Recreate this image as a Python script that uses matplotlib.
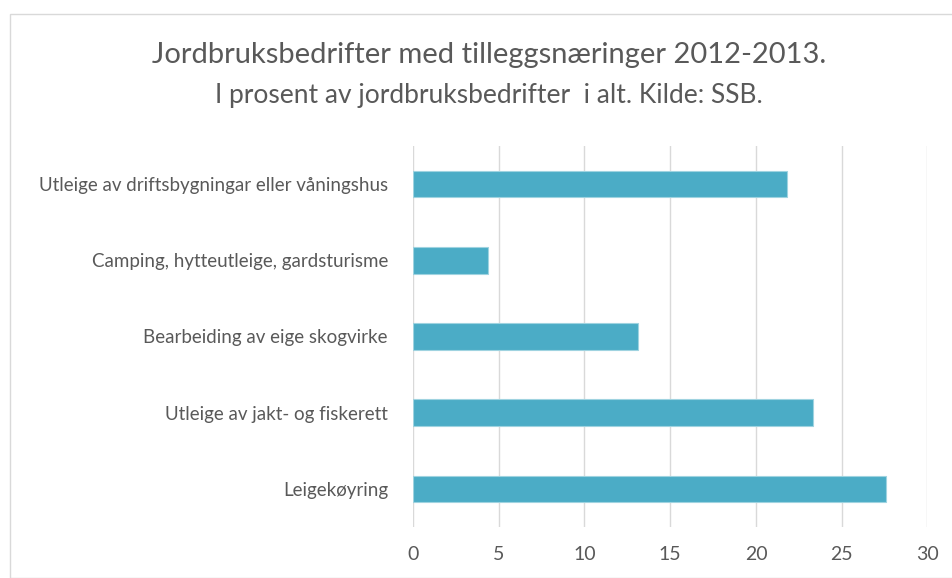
import matplotlib.pyplot as plt
from matplotlib.patches import Rectangle

plt.rcParams["font.family"] = ["Lato", "DejaVu Sans"]

categories = [
    "Utleige av driftsbygningar eller våningshus",
    "Camping, hytteutleige, gardsturisme",
    "Bearbeiding av eige skogvirke",
    "Utleige av jakt- og fiskerett",
    "Leigekøyring",
]
values = [21.8, 4.4, 13.1, 23.3, 27.6]
xticks = [0, 5, 10, 15, 20, 25, 30]

W, H = 953, 578
fig = plt.figure(figsize=(W / 100, H / 100), dpi=100)
fig.patch.set_facecolor("white")

# chart-area border
fig.patches.append(Rectangle((10 / W, 0), 1, 1 - 14 / H, transform=fig.transFigure,
                             fill=False, edgecolor="#D9D9D9", linewidth=1))

ax = fig.add_axes([413 / W, 1 - 527 / H, (927.5 - 413) / W, (527 - 146) / H])

pos = list(range(len(categories)))
ax.barh(pos, values, height=0.35, color="#4BACC6", edgecolor="#9FD3E0", linewidth=0.8, zorder=3)
ax.set_ylim(len(categories) - 0.5, -0.5)
ax.set_xlim(0, 30)
ax.set_yticks(pos)
ax.set_yticklabels(categories, fontsize=13.5, color="#595959")
ax.set_xticks(xticks)
ax.set_xticklabels([str(t) for t in xticks], fontsize=14, color="#595959")
ax.tick_params(axis="y", length=0, pad=18)
ax.tick_params(axis="x", length=0, pad=14)
ax.grid(axis="x", color="#D9D9D9", linewidth=1, zorder=0)
for s in ax.spines.values():
    s.set_visible(False)

fig.text(489 / W, 1 - 55 / H, "Jordbruksbedrifter med tilleggsnæringer 2012-2013.",
         ha="center", va="center", fontsize=21, color="#595959")
fig.text(489 / W, 1 - 96 / H, "I prosent av jordbruksbedrifter  i alt. Kilde: SSB.",
         ha="center", va="center", fontsize=19, color="#595959")

plt.savefig("out.png", dpi=100)
plt.close()
